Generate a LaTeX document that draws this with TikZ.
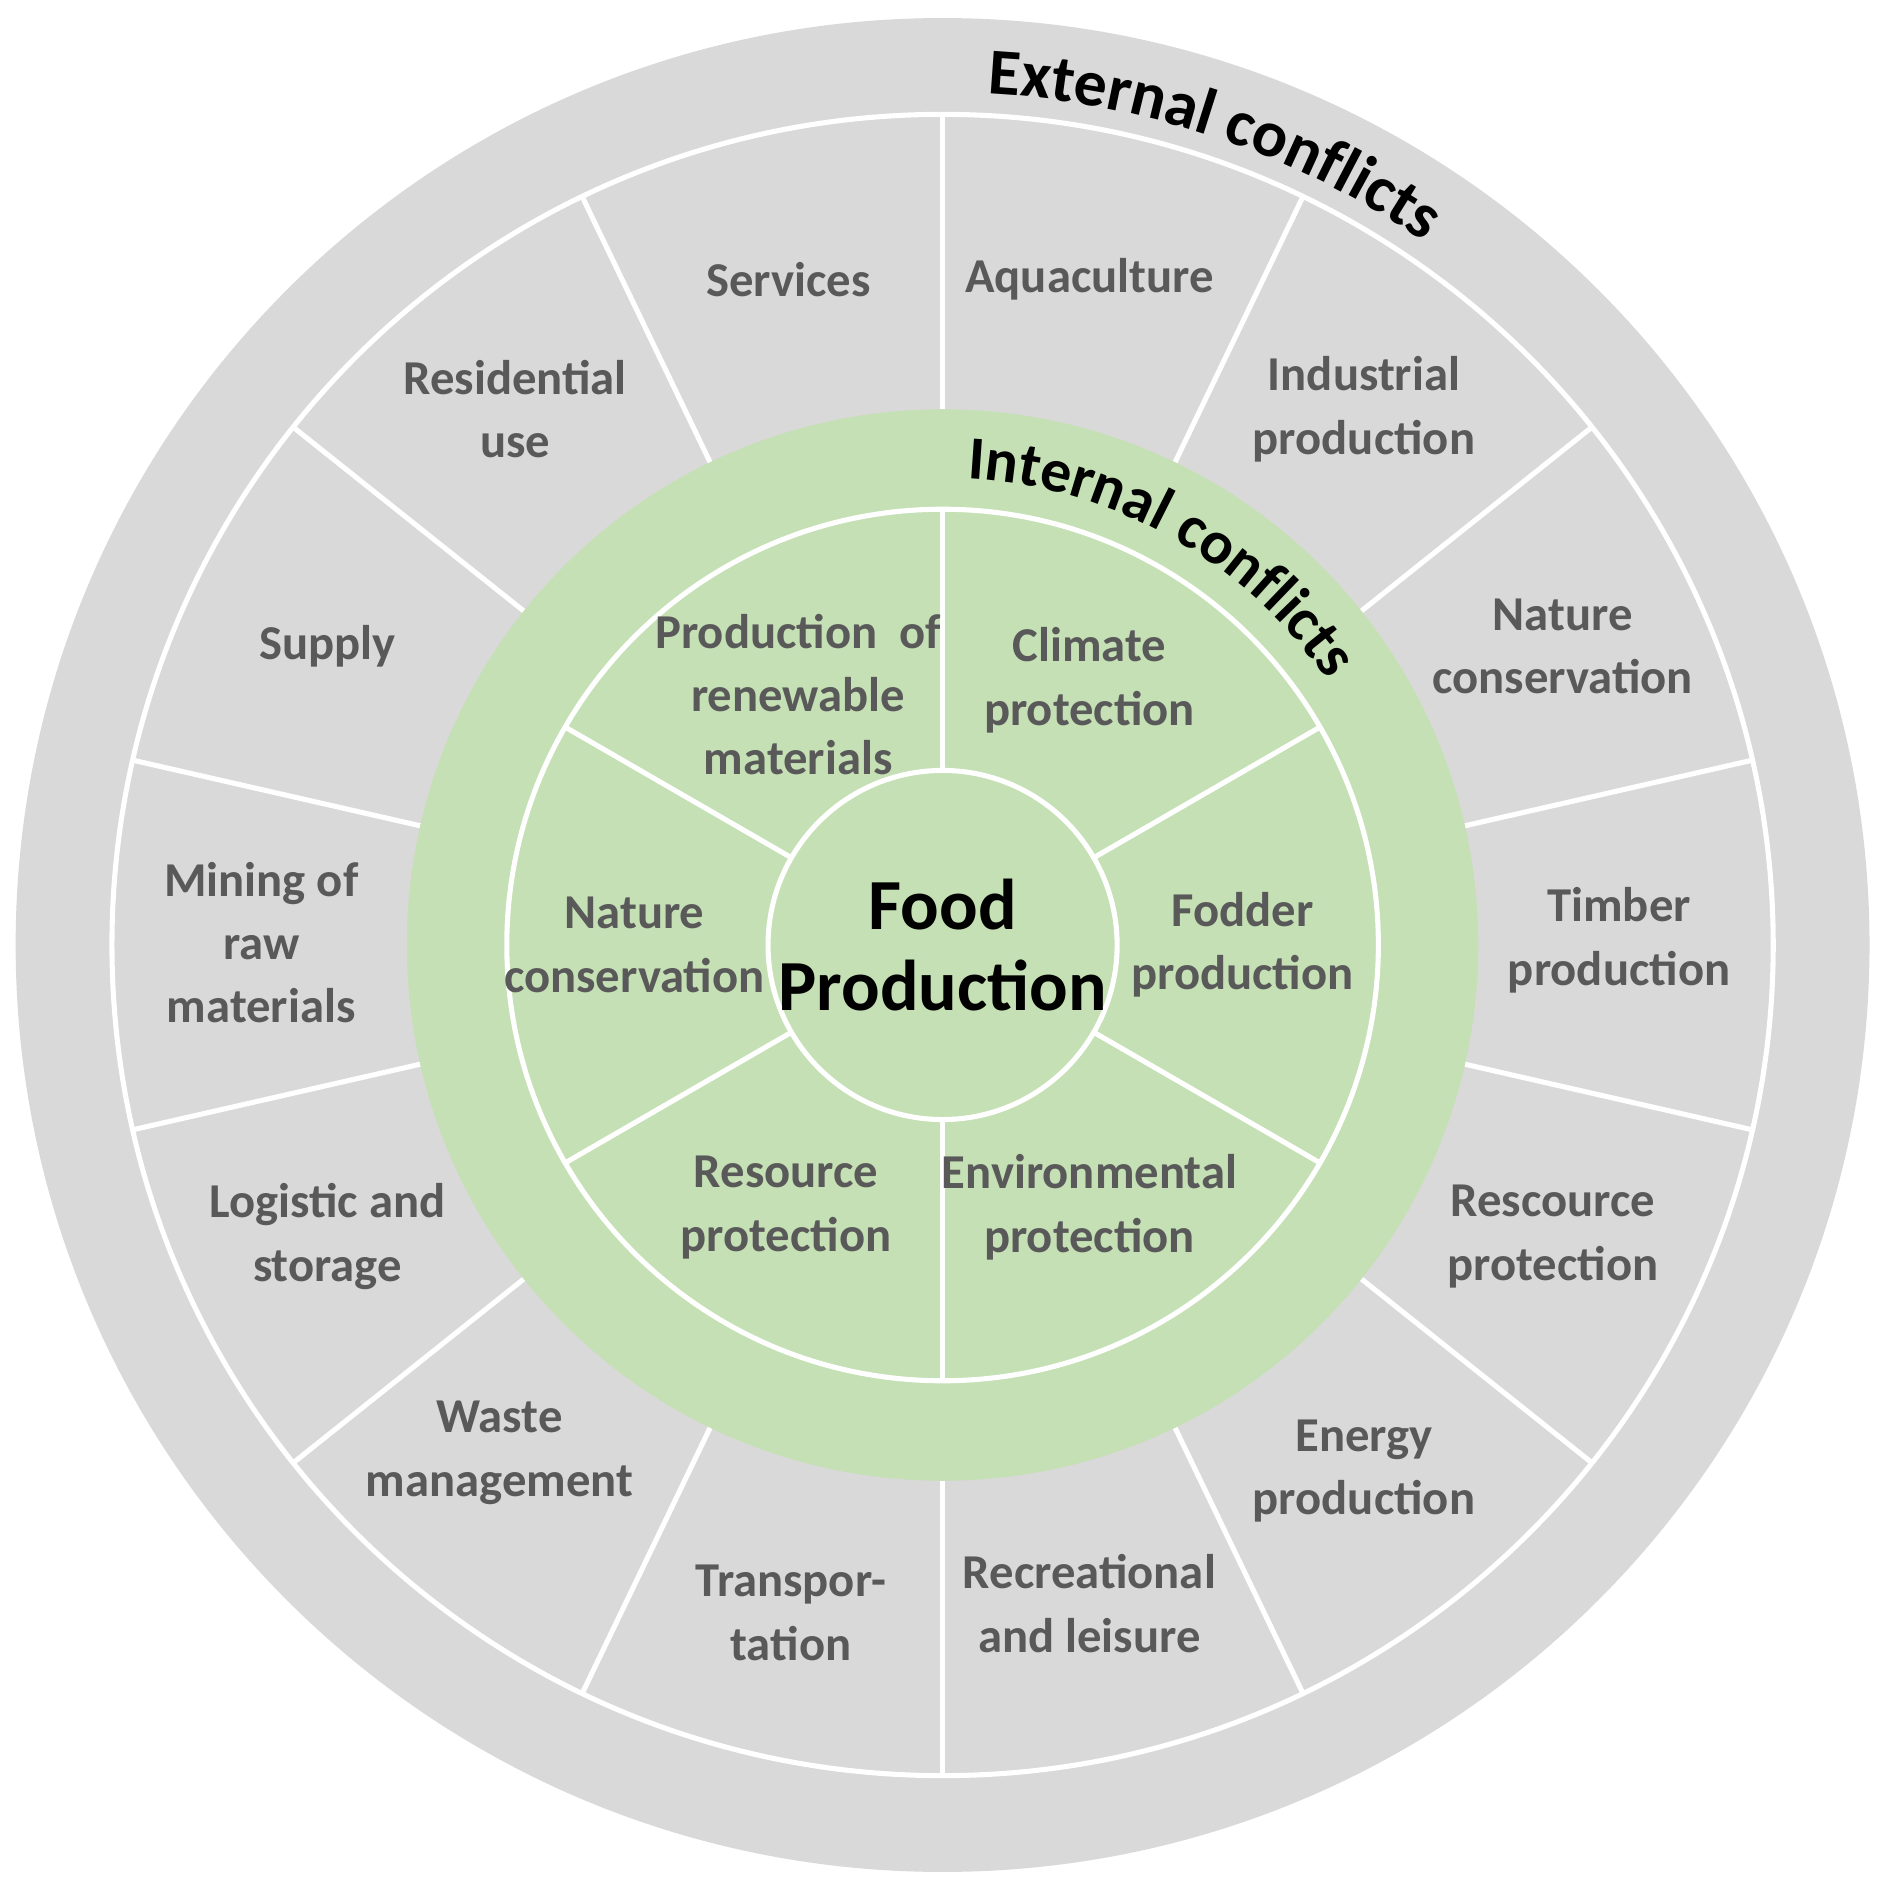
\documentclass[tikz,border=0pt]{standalone}
\usepackage{fontspec}
\setmainfont{Carlito}
\usetikzlibrary{decorations.text}
\definecolor{ringgrey}{HTML}{D9D9D9}
\definecolor{ringgreen}{HTML}{C5E0B4}
\definecolor{labelgrey}{HTML}{595959}
\begin{document}
\begin{tikzpicture}
	\tikzstyle{sector}=[align=center,text=labelgrey,font=\bfseries\fontsize{11.5}{15}\selectfont]
	\tikzstyle{spoke}=[white,line width=1.2pt]
	\useasboundingbox (-7.83,-7.85) rectangle (7.85,7.85);
	% outer ring
	\fill[ringgrey] (0,0) circle (7.70);
	\draw[spoke] (0,0) circle (6.90);
	\foreach \k in {0,...,13}
		\draw[spoke] (90+\k*360/14:4.45) -- (90+\k*360/14:6.90);
	% green ring
	\fill[ringgreen] (0,0) circle (4.45);
	\draw[spoke] (0,0) circle (3.62);
	\foreach \a in {30,90,...,330}
		\draw[spoke] (\a:1.45) -- (\a:3.62);
	\node[circle,draw=white,line width=1.2pt,fill=ringgreen,minimum size=2.9cm] (core) at (0,0) {};
	\node[align=center,font=\bfseries\fontsize{17}{19}\selectfont] (food) at (0,0) {Food\\Production};
	% inner sectors
	\node[sector] (renew) at (-1.20,2.08) {Production~ of\\renewable\\materials};
	\node[sector] (climate) at (1.22,2.20) {Climate\\protection};
	\node[sector] (fodder) at (2.49,0) {Fodder\\production};
	\node[sector] (environ) at (1.22,-2.18) {Environmental\\protection};
	\node[sector] (resin) at (-1.30,-2.18) {Resource\\protection};
	\node[sector] (natin) at (-2.56,0) {Nature\\conservation};
	% outer sectors
	\node[sector] (services) at (-1.28,5.53) {Services};
	\node[sector] (aqua) at (1.22,5.53) {Aquaculture};
	\node[sector] (industry) at (3.50,4.45) {Industrial\\production};
	\node[sector] (natout) at (5.15,2.48) {Nature\\conservation};
	\node[sector] (timber) at (5.62,0.04) {Timber\\production};
	\node[sector] (resout) at (5.07,-2.42) {Rescource\\protection};
	\node[sector] (energy) at (3.50,-4.37) {Energy\\production};
	\node[sector] (leisure) at (1.22,-5.47) {Recreational\\and leisure};
	\node[sector] (transport) at (-1.26,-5.55) {Transpor-\\tation};
	\node[sector] (waste) at (-3.68,-4.22) {Waste\\management};
	\node[sector] (logistic) at (-5.11,-2.42) {Logistic and\\storage};
	\node[sector] (mining) at (-5.66,0.02) {Mining of\\raw\\materials};
	\node[sector] (supply) at (-5.11,2.48) {Supply};
	\node[sector] (resident) at (-3.55,4.45) {Residential\\use};
	% curved titles
	\path[decorate,decoration={text along path,text align=left,
		text={|\bfseries\fontsize{15.5}{16}\selectfont|External conflicts}}]
		(87:7.08) arc (87:30:7.08);
	\path[decorate,decoration={text along path,text align=left,
		text={|\bfseries\fontsize{14.5}{15}\selectfont|Internal conflicts}}]
		(87:3.88) arc (87:10:3.88);
\end{tikzpicture}
\end{document}
